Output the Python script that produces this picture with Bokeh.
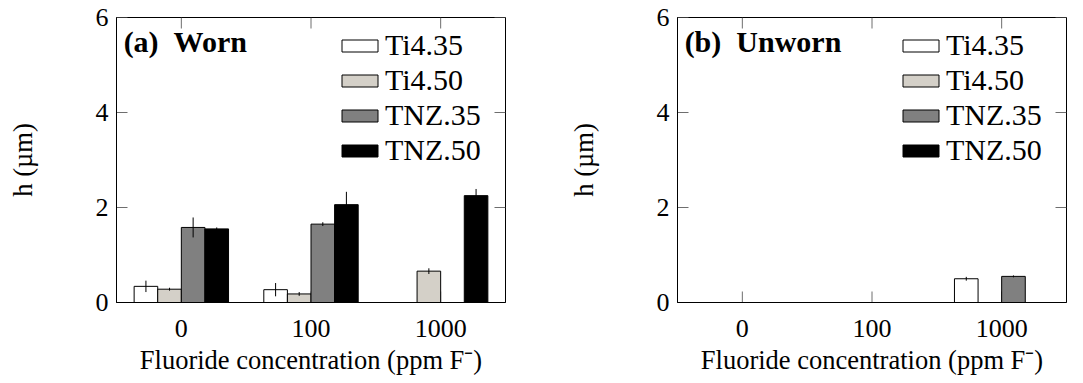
from bokeh.plotting import figure
from bokeh.layouts import row
from bokeh.models import Range1d, FixedTicker, Label, ColumnDataSource
from bokeh.embed import file_html
from bokeh.resources import INLINE

# Fluoride concentrations (ppm F-)
concentrations = ["0", "100", "1000"]
alloys = ["Ti4.35", "Ti4.50", "TNZ.35", "TNZ.50"]
fills = ["#ffffff", "#d4d0c8", "#808080", "#000000"]

# Worn specimens: mean h (um) and error
worn_ti435 = [0.34, 0.27, 0.0]
worn_ti450 = [0.28, 0.18, 0.66]
worn_tnz35 = [1.58, 1.65, 0.0]
worn_tnz50 = [1.55, 2.06, 2.25]
worn_ti435_err = [0.12, 0.14, 0.0]
worn_ti450_err = [0.03, 0.04, 0.06]
worn_tnz35_err = [0.21, 0.04, 0.0]
worn_tnz50_err = [0.03, 0.27, 0.14]

# Unworn specimens
unworn_ti435 = [0.0, 0.0, 0.50]
unworn_ti450 = [0.0, 0.0, 0.0]
unworn_tnz35 = [0.0, 0.0, 0.55]
unworn_tnz50 = [0.0, 0.0, 0.0]
unworn_ti435_err = [0.0, 0.0, 0.04]
unworn_ti450_err = [0.0, 0.0, 0.0]
unworn_tnz35_err = [0.0, 0.0, 0.02]
unworn_tnz50_err = [0.0, 0.0, 0.0]

y_ticks = [0, 2, 4, 6]

FONT = "'Liberation Serif', 'Times New Roman', serif"
BAR_W = 0.182
TICK_COLOR = "#6e6e6e"
TICK_LEN = 11          # px
FRAME_W, FRAME_H = 389, 285
X_MIN, X_MAX = -0.5, 2.5
Y_MIN, Y_MAX = 0, 6
PX_X = FRAME_W / (X_MAX - X_MIN)   # px per x unit
PX_Y = FRAME_H / (Y_MAX - Y_MIN)   # px per y unit


def style_axis(ax):
    ax.major_tick_in = 0
    ax.major_tick_out = 0
    ax.minor_tick_in = 0
    ax.minor_tick_out = 0
    ax.axis_line_color = "black"
    ax.major_label_text_font = FONT
    ax.major_label_text_font_size = "26px"
    ax.major_label_text_color = "black"
    ax.axis_label_text_font = FONT
    ax.axis_label_text_font_size = "26.5px"
    ax.axis_label_text_font_style = "normal"
    ax.axis_label_text_color = "black"


def inward_ticks(p, xpos):
    # short inward tick marks on all four sides of the frame
    dx = TICK_LEN / PX_X
    dy = TICK_LEN / PX_Y
    ny, nx = len(y_ticks), len(xpos)
    kw = dict(line_color=TICK_COLOR, line_width=1)
    p.segment(x0=[X_MIN] * ny, y0=y_ticks, x1=[X_MIN + dx] * ny, y1=y_ticks, **kw)
    p.segment(x0=[X_MAX] * ny, y0=y_ticks, x1=[X_MAX - dx] * ny, y1=y_ticks, **kw)
    p.segment(x0=xpos, y0=[Y_MIN] * nx, x1=xpos, y1=[Y_MIN + dy] * nx, **kw)
    p.segment(x0=xpos, y0=[Y_MAX] * nx, x1=xpos, y1=[Y_MAX - dy] * nx, **kw)


def panel(title, series, errors, min_left, min_right):
    p = figure(frame_width=FRAME_W, frame_height=FRAME_H,
               x_range=Range1d(X_MIN, X_MAX), y_range=Range1d(Y_MIN, Y_MAX),
               min_border_left=min_left, min_border_right=min_right,
               min_border_top=17, min_border_bottom=81,
               output_backend="svg", toolbar_location=None)
    p.xgrid.visible = False
    p.ygrid.visible = False
    p.outline_line_color = "black"
    p.outline_line_width = 1
    p.background_fill_color = "white"

    xpos = list(range(len(concentrations)))
    inward_ticks(p, xpos)

    for i, (name, vals, errs, col) in enumerate(zip(alloys, series, errors, fills)):
        off = (i - 1.5) * BAR_W
        xs = [x + off for x in xpos]
        src = ColumnDataSource(dict(x=xs, top=vals))
        p.vbar(x="x", top="top", bottom=0, width=BAR_W, source=src,
               fill_color=col, line_color="black", line_width=1,
               legend_label=name)
        ex = [x for x, e in zip(xs, errs) if e > 0]
        lo = [v - e for v, e in zip(vals, errs) if e > 0]
        hi = [v + e for v, e in zip(vals, errs) if e > 0]
        if ex:
            p.segment(x0=ex, y0=lo, x1=ex, y1=hi, line_color="black", line_width=1)

    p.xaxis.ticker = FixedTicker(ticks=xpos)
    p.xaxis.major_label_overrides = {i: c for i, c in enumerate(concentrations)}
    p.xaxis.axis_label = "Fluoride concentration (ppm F\u207b)"
    style_axis(p.xaxis[0])
    p.xaxis.major_label_standoff = 17
    p.xaxis.axis_label_standoff = 5

    p.yaxis.ticker = FixedTicker(ticks=y_ticks)
    p.yaxis.axis_label = "h (\u00b5m)"
    style_axis(p.yaxis[0])
    p.yaxis.major_label_standoff = 8
    p.yaxis.axis_label_standoff = 55

    p.add_layout(Label(x=-0.445, y=5.49, text=title, text_font=FONT,
                       text_font_size="30px", text_font_style="bold",
                       text_baseline="middle", text_color="black"))

    lg = p.legend[0]
    lg.location = (221, 135)
    lg.glyph_width = 45
    lg.glyph_height = 15
    lg.label_height = 30
    lg.label_standoff = 3
    lg.spacing = 1
    lg.padding = 0
    lg.margin = 0
    lg.border_line_color = None
    lg.background_fill_alpha = 0
    lg.label_text_font = FONT
    lg.label_text_font_size = "30px"
    lg.label_text_color = "black"
    return p


p1 = panel("(a)\u00a0\u00a0Worn",
           [worn_ti435, worn_ti450, worn_tnz35, worn_tnz50],
           [worn_ti435_err, worn_ti450_err, worn_tnz35_err, worn_tnz50_err],
           116, 50)
p2 = panel("(b)\u00a0\u00a0Unworn",
           [unworn_ti435, unworn_ti450, unworn_tnz35, unworn_tnz50],
           [unworn_ti435_err, unworn_ti450_err, unworn_tnz35_err, unworn_tnz50_err],
           122, 18)

layout = row(p1, p2, spacing=0)
open("out.html", "w").write(file_html(layout, INLINE))
